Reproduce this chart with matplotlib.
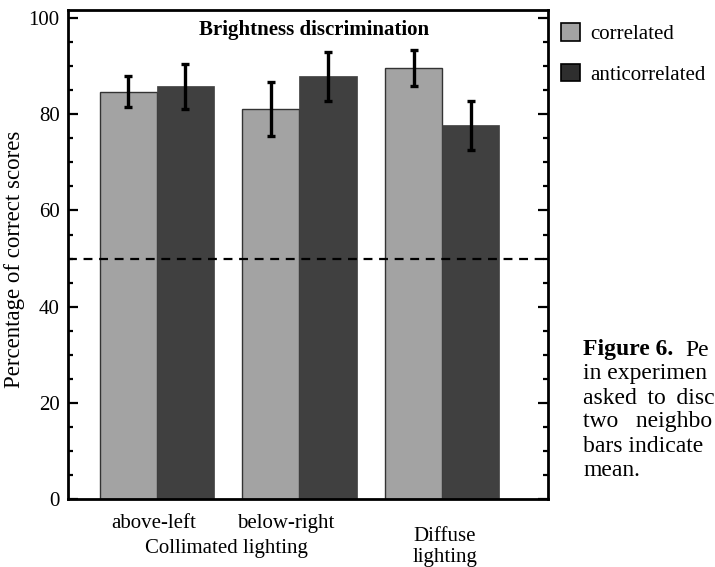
import numpy as np
import matplotlib.pyplot as plt
from matplotlib.ticker import MultipleLocator
from matplotlib.patches import Patch

plt.rcParams['font.family'] = ['Liberation Serif', 'DejaVu Serif']

# percentage of correct scores per condition
conditions = ["above-left", "below-right", "diffuse"]
correlated = [84.7, 81.1, 89.6]
correlated_err = [3.2, 5.6, 3.8]
anticorrelated = [85.8, 87.9, 77.7]
anticorrelated_err = [4.6, 5.1, 5.1]
chance_level = 50

# caption column, running off the right edge of the page
caption_lines = [
    "in experimen",
    "asked\u2009 to\u2009 disc",
    "two   neighbo",
    "bars indicate",
    "mean.",
]

light = "#a3a3a3"
dark = "#404040"
fs = 15


def main():
    fig = plt.figure(figsize=(7.15, 5.67), dpi=100)
    ax = fig.add_axes([0.0951, 0.1199, 0.6713, 0.8625])

    x = np.arange(1, len(conditions) + 1)
    w = 0.4
    err_style = dict(ecolor="black", elinewidth=2.4, capsize=3, capthick=2.4)

    ax.bar(x - w / 2, correlated, w, color=light, edgecolor="#333333",
           linewidth=1.0, yerr=correlated_err, error_kw=err_style, zorder=2)
    ax.bar(x + w / 2, anticorrelated, w, color=dark, edgecolor=dark,
           linewidth=0.5, yerr=anticorrelated_err, error_kw=err_style, zorder=2)

    # chance level
    ax.axhline(chance_level, color="black", linestyle=(0, (4, 3)),
               linewidth=1.6, zorder=3)

    ax.set_xlim(0.378, 3.741)
    ax.set_ylim(0, 101.7)
    ax.set_xticks([])
    ax.yaxis.set_major_locator(MultipleLocator(20))
    ax.yaxis.set_minor_locator(MultipleLocator(5))
    ax.tick_params(axis="y", which="both", direction="in", right=True,
                   width=1.6, labelsize=fs, pad=6)
    ax.tick_params(axis="y", which="major", length=7)
    ax.tick_params(axis="y", which="minor", length=3.5)
    for s in ax.spines.values():
        s.set_linewidth(2.0)

    ylab = ax.set_ylabel("Percentage of correct scores", fontsize=16.5)
    ylab.set_va("center")
    ax.yaxis.set_label_coords(-0.112, 0.49)

    ax.text(0.512, 0.959, "Brightness discrimination", transform=ax.transAxes,
            ha="center", va="center", fontsize=fs, fontweight="bold")

    # condition labels under the axis
    tr = ax.get_xaxis_transform()
    ax.text(0.98, -0.05, "above-left", transform=tr, ha="center",
            va="center", fontsize=fs)
    ax.text(1.9, -0.05, "below-right", transform=tr, ha="center",
            va="center", fontsize=fs)
    ax.text(1.49, -0.102, "Collimated lighting", transform=tr, ha="center",
            va="center", fontsize=fs)
    ax.text(3.02, -0.076, "Diffuse", transform=tr, ha="center",
            va="center", fontsize=fs)
    ax.text(3.02, -0.119, "lighting", transform=tr, ha="center",
            va="center", fontsize=fs)

    handles = [Patch(facecolor=light, edgecolor="black", linewidth=1.2),
               Patch(facecolor="#2e2e2e", edgecolor="black", linewidth=1.2)]
    fig.legend(handles, ["correlated", "anticorrelated"],
               loc="upper left", bbox_to_anchor=(0.759, 0.992),
               frameon=False, fontsize=fs, handlelength=0.9,
               handleheight=0.9, handletextpad=0.5, labelspacing=0.95)

    # figure caption beside the chart
    fig.text(0.8154, 1 - 350 / 567, "Figure 6.", fontsize=17,
             fontweight="bold", va="center", ha="left")
    fig.text(0.9580, 1 - 350 / 567, "Pe", fontsize=17, va="center",
             ha="left")
    for i, line in enumerate(caption_lines):
        fig.text(0.8154, 1 - (374 + 24 * i) / 567, line, fontsize=17,
                 va="center", ha="left")

    fig.savefig("out.png", dpi=100)


if __name__ == '__main__':
    main()
